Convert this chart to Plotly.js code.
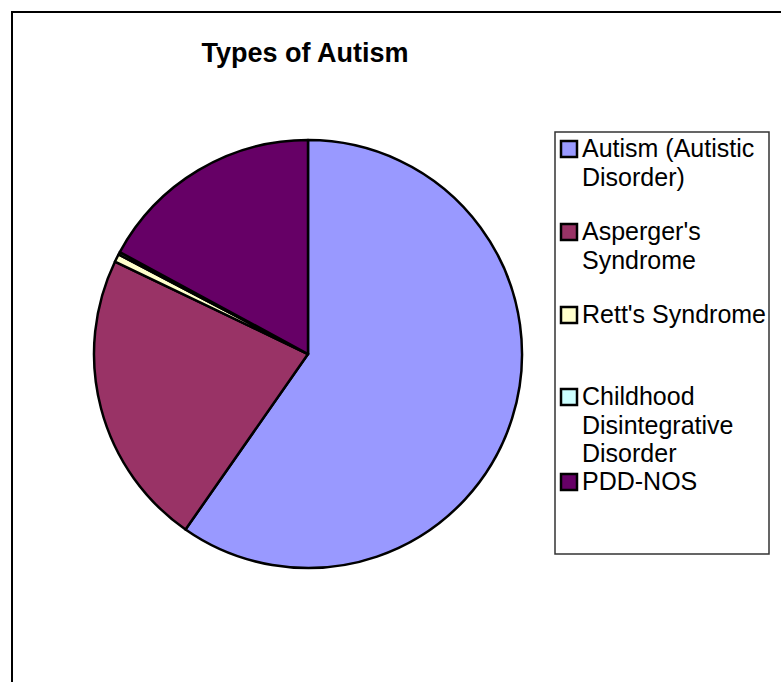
<!DOCTYPE html>
<html>
<head>
<meta charset="utf-8">
<script src="https://cdn.plot.ly/plotly-3.0.1.min.js"></script>
<style>
  html, body { margin: 0; padding: 0; background: #ffffff; }
  #chart { width: 781px; height: 682px; }
</style>
</head>
<body>
<div id="chart"></div>
<script>
// ---- data ----
const categories = [
  "Autism (Autistic<br>Disorder)",
  "Asperger's<br>Syndrome",
  "Rett's Syndrome",
  "Childhood<br>Disintegrative<br>Disorder",
  "PDD-NOS"
];
const percentages = [59.7, 22.4, 0.6, 0.2, 17.1];
const sliceColors = ["#9999FF", "#993366", "#FFFFCC", "#CCFFFF", "#660066"];
const chartTitle = "Types of Autism";

// ---- layout helpers (pixel -> paper, margins are zero) ----
const W = 781, H = 682;
const px = x => x / W;
const py = y => 1 - y / H;

const FONT = "Liberation Sans, Arial, sans-serif";
const legendFontSize = 25;
const lineGap = 28.5;
// baseline of the first line of each legend entry (pixels)
const entryBaselines = [157, 240, 323, 405, 490];

const annotations = [];
const shapes = [];

// outer chart frame (only top and left edges visible)
shapes.push({
  type: "path", xref: "paper", yref: "paper",
  path: `M ${px(12)} ${py(700)} L ${px(12)} ${py(12)} L ${px(800)} ${py(12)}`,
  line: { color: "#000000", width: 2 }
});

// legend box
shapes.push({
  type: "rect", xref: "paper", yref: "paper",
  x0: px(555), x1: px(769), y0: py(554), y1: py(132),
  line: { color: "#333333", width: 1.5 }, fillcolor: "rgba(0,0,0,0)"
});

categories.forEach((label, i) => {
  const base = entryBaselines[i];
  shapes.push({
    type: "rect", xref: "paper", yref: "paper",
    x0: px(561), x1: px(577), y0: py(base), y1: py(base - 16),
    fillcolor: sliceColors[i], line: { color: "#000000", width: 2.5 }
  });
  label.split("<br>").forEach((ln, j) => {
    const b = base + j * lineGap;
    annotations.push({
      xref: "paper", yref: "paper",
      x: px(581), y: py(b - 0.35 * legendFontSize),
      xanchor: "left", yanchor: "middle",
      text: ln, showarrow: false, borderpad: 0,
      font: { family: FONT, size: legendFontSize, color: "#000000" }
    });
  });
});

const data = [{
  type: "pie",
  labels: categories,
  values: percentages,
  sort: false,
  direction: "clockwise",
  rotation: 0,
  textinfo: "none",
  hoverinfo: "label+percent",
  marker: { colors: sliceColors, line: { color: "#000000", width: 2.5 } },
  domain: { x: [px(94), px(522)], y: [py(568), py(140)] },
  showlegend: false
}];

const layout = {
  width: W, height: H,
  margin: { l: 0, r: 0, t: 0, b: 0, pad: 0 },
  paper_bgcolor: "#ffffff",
  plot_bgcolor: "#ffffff",
  showlegend: false,
  title: {
    text: "<b>" + chartTitle + "</b>",
    x: px(305), xanchor: "center", xref: "paper",
    y: 1 - 53 / H, yanchor: "middle", yref: "container",
    font: { family: FONT, size: 27, color: "#000000" }
  },
  shapes: shapes,
  annotations: annotations
};

Plotly.newPlot("chart", data, layout, { displayModeBar: false, staticPlot: true });
</script>
</body>
</html>
